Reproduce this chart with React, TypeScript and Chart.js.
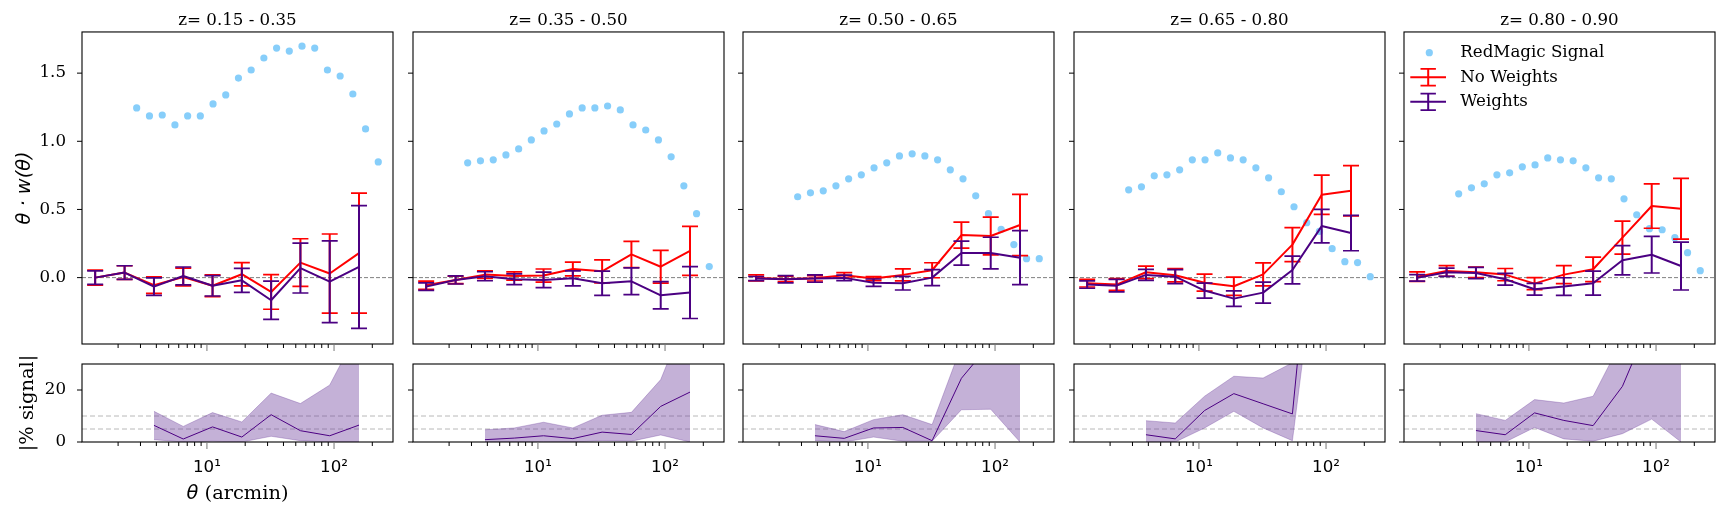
import React, { useEffect, useRef } from 'react';
import { Chart, registerables } from 'chart.js';

Chart.register(...registerables);

// ---------------- data ----------------
const zBinTitles = ['z= 0.15 - 0.35', 'z= 0.35 - 0.50', 'z= 0.50 - 0.65', 'z= 0.65 - 0.80', 'z= 0.80 - 0.90'];

const thetaSignal = [2.80, 3.53, 4.45, 5.60, 7.05, 8.87, 11.17, 14.06, 17.70, 22.28, 28.05, 35.32, 44.46, 55.97, 70.47, 88.72, 111.7, 140.6, 177.0, 222.8];
const thetaBins = [1.32, 2.25, 3.83, 6.51, 11.07, 18.82, 31.99, 54.38, 92.47, 157.2];
const thetaFrac = [3.83, 6.51, 11.07, 18.82, 31.99, 54.38, 92.47, 157.2];

const signalZ1 = [1.245, 1.186, 1.193, 1.120, 1.186, 1.186, 1.274, 1.340, 1.464, 1.523, 1.611, 1.684, 1.662, 1.698, 1.684, 1.523, 1.479, 1.347, 1.091, 0.849];
const noWeightsZ1 = [0.0, 0.037, -0.055, 0.005, -0.06, 0.025, -0.105, 0.11, 0.03, 0.18];
const noWeightsErrZ1 = [0.055, 0.05, 0.06, 0.065, 0.08, 0.085, 0.127, 0.175, 0.29, 0.44];
const weightsZ1 = [0.0, 0.037, -0.066, 0.012, -0.06, -0.02, -0.166, 0.07, -0.03, 0.078];
const weightsErrZ1 = [0.05, 0.05, 0.064, 0.066, 0.075, 0.088, 0.14, 0.183, 0.30, 0.45];
const fracZ1 = [6.4, 1.15, 5.8, 1.9, 10.5, 4.35, 2.4, 6.5];
const fracLoZ1 = [0.9, 0.0, 0.3, 0.0, 2.2, 0.5, 0.0, 0.0];
const fracHiZ1 = [11.8, 6.0, 11.3, 7.7, 18.8, 14.8, 21.9, 43.5];

const signalZ2 = [0.842, 0.857, 0.864, 0.900, 0.944, 1.010, 1.076, 1.127, 1.201, 1.245, 1.245, 1.259, 1.230, 1.120, 1.083, 1.010, 0.886, 0.673, 0.469, 0.081];
const noWeightsZ2 = [-0.056, -0.017, 0.022, 0.012, 0.015, 0.063, 0.046, 0.17, 0.08, 0.196];
const noWeightsErrZ2 = [0.03, 0.027, 0.028, 0.03, 0.048, 0.05, 0.084, 0.096, 0.12, 0.18];
const weightsZ2 = [-0.066, -0.017, 0.01, -0.012, -0.017, -0.005, -0.041, -0.027, -0.13, -0.11];
const weightsErrZ2 = [0.028, 0.03, 0.033, 0.039, 0.057, 0.055, 0.089, 0.098, 0.10, 0.19];
const fracZ2 = [0.9, 1.5, 2.4, 1.3, 3.8, 2.9, 13.7, 19.2];
const fracLoZ2 = [0.0, 0.0, 0.2, 0.0, 0.5, 0.3, 2.7, 0.0];
const fracHiZ2 = [4.7, 5.4, 7.6, 5.4, 10.3, 11.4, 24.0, 52];

const signalZ3 = [0.593, 0.622, 0.637, 0.673, 0.725, 0.754, 0.805, 0.842, 0.893, 0.908, 0.893, 0.864, 0.791, 0.725, 0.600, 0.469, 0.354, 0.242, 0.139, 0.139];
const noWeightsZ3 = [-0.002, -0.01, -0.005, 0.017, -0.007, 0.02, 0.054, 0.312, 0.305, 0.386];
const noWeightsErrZ3 = [0.022, 0.02, 0.02, 0.02, 0.015, 0.044, 0.055, 0.095, 0.138, 0.225];
const weightsZ3 = [-0.007, -0.012, -0.007, -0.002, -0.037, -0.041, 0.0, 0.18, 0.18, 0.146];
const weightsErrZ3 = [0.015, 0.026, 0.027, 0.02, 0.027, 0.05, 0.059, 0.088, 0.116, 0.198];
const fracZ3 = [2.4, 1.4, 5.4, 5.6, 0.5, 24.5, 38, 73];
const fracLoZ3 = [0.5, 0.0, 1.9, 0.3, 0.3, 12.4, 12.6, 0.0];
const fracHiZ3 = [6.7, 4.0, 8.6, 10.5, 6.7, 37, 60, 150];

const signalZ4 = [0.644, 0.666, 0.747, 0.754, 0.791, 0.864, 0.864, 0.915, 0.878, 0.864, 0.805, 0.732, 0.630, 0.520, 0.403, 0.339, 0.212, 0.117, 0.110, 0.007];
const noWeightsZ4 = [-0.041, -0.051, 0.039, 0.017, -0.037, -0.063, 0.024, 0.242, 0.608, 0.637];
const noWeightsErrZ4 = [0.028, 0.043, 0.046, 0.049, 0.062, 0.067, 0.084, 0.124, 0.144, 0.184];
const weightsZ4 = [-0.051, -0.059, 0.02, 0.007, -0.095, -0.154, -0.11, 0.056, 0.378, 0.327];
const weightsErrZ4 = [0.027, 0.046, 0.04, 0.051, 0.055, 0.057, 0.077, 0.102, 0.123, 0.13];
const fracZ4 = [2.8, 1.2, 12.1, 18.6, 14.7, 10.8, 126, 300];
const fracLoZ4 = [0.0, 0.0, 5.4, 11.8, 5.4, 0.5, 89, 180];
const fracHiZ4 = [8.2, 7.3, 17.6, 25.3, 24.6, 30.5, 170, 450];

const signalZ5 = [0.615, 0.659, 0.688, 0.754, 0.769, 0.813, 0.827, 0.878, 0.864, 0.857, 0.805, 0.732, 0.725, 0.578, 0.461, 0.359, 0.351, 0.293, 0.183, 0.051];
const noWeightsZ5 = [0.007, 0.049, 0.039, 0.022, -0.044, 0.022, 0.061, 0.293, 0.525, 0.505];
const noWeightsErrZ5 = [0.035, 0.039, 0.038, 0.045, 0.044, 0.066, 0.09, 0.121, 0.163, 0.223];
const weightsZ5 = [-0.002, 0.039, 0.034, -0.012, -0.085, -0.066, -0.041, 0.127, 0.168, 0.085];
const weightsErrZ5 = [0.024, 0.03, 0.041, 0.043, 0.043, 0.065, 0.088, 0.107, 0.134, 0.176];
const fracZ5 = [4.4, 2.8, 11.2, 8.3, 6.3, 21.4, 48, 37];
const fracLoZ5 = [0.0, 0.0, 5.6, 1.2, 0.3, 3.2, 8.8, 0.0];
const fracHiZ5 = [10.9, 8.3, 16.3, 15.0, 17.6, 39.5, 70, 60];

const yTicksTop = [0, 0.5, 1.0, 1.5];
const yTicksBottom = [0, 20];
const xMajorTicks = [10, 100];
const xMajorLabels = ['10¹', '10²'];
const xMinorTicks = [2, 3, 4, 5, 6, 7, 8, 9, 20, 30, 40, 50, 60, 70, 80, 90, 200];
const zeroLine = [0];
const fracRefLines = [5, 10];
const legendLabels = ['RedMagic Signal', 'No Weights', 'Weights'];

const panels = [
  { title: zBinTitles[0], signal: signalZ1, noW: noWeightsZ1, noWErr: noWeightsErrZ1, w: weightsZ1, wErr: weightsErrZ1, frac: fracZ1, fracLo: fracLoZ1, fracHi: fracHiZ1 },
  { title: zBinTitles[1], signal: signalZ2, noW: noWeightsZ2, noWErr: noWeightsErrZ2, w: weightsZ2, wErr: weightsErrZ2, frac: fracZ2, fracLo: fracLoZ2, fracHi: fracHiZ2 },
  { title: zBinTitles[2], signal: signalZ3, noW: noWeightsZ3, noWErr: noWeightsErrZ3, w: weightsZ3, wErr: weightsErrZ3, frac: fracZ3, fracLo: fracLoZ3, fracHi: fracHiZ3 },
  { title: zBinTitles[3], signal: signalZ4, noW: noWeightsZ4, noWErr: noWeightsErrZ4, w: weightsZ4, wErr: weightsErrZ4, frac: fracZ4, fracLo: fracLoZ4, fracHi: fracHiZ4 },
  { title: zBinTitles[4], signal: signalZ5, noW: noWeightsZ5, noWErr: noWeightsErrZ5, w: weightsZ5, wErr: weightsErrZ5, frac: fracZ5, fracLo: fracLoZ5, fracHi: fracHiZ5 },
];

// ---------------- styles / layout ----------------
const SIGNAL_COLOR = '#87CEFA';
const NOW_COLOR = '#FF0000';
const W_COLOR = '#4B0082';
const BAND_COLOR = 'rgba(100, 50, 150, 0.38)';
const SERIF = 'DejaVu Serif';
const SANS = 'DejaVu Sans';
const TICK_FONT = 16.67;
const LABEL_FONT = 19.4;

const X_MIN = 1.04;
const X_MAX = 291;
const Y_TOP_MIN = -0.487;
const Y_TOP_MAX = 1.802;
const COL_LEFT = [82, 413, 743, 1074, 1404];
const PLOT_W = 311;
const TOP_CANVAS_H = 356;
const BOT_CANVAS_TOP = 350;
const BOT_CANVAS_H = 168;
const AXIS_W = 82;
const SIDE_PAD = 10;

const pts = (xs: number[], ys: number[]) => xs.map((x, k) => ({ x, y: ys[k] }));

// ---------------- plugins ----------------
const errorBarPlugin = {
  id: 'errorBars',
  afterDatasetDraw(chart: any, args: any) {
    const ds = chart.data.datasets[args.index];
    if (!ds.yErr) return;
    const { ctx, chartArea: a, scales } = chart;
    const cap = 8;
    ctx.save();
    ctx.beginPath();
    ctx.rect(a.left, a.top, a.right - a.left, a.bottom - a.top);
    ctx.clip();
    ctx.strokeStyle = ds.borderColor;
    ds.data.forEach((p: any, k: number) => {
      const e = ds.yErr[k];
      const px = scales.x.getPixelForValue(p.x);
      const yHi = scales.y.getPixelForValue(p.y + e);
      const yLo = scales.y.getPixelForValue(p.y - e);
      ctx.lineWidth = 2;
      ctx.beginPath();
      ctx.moveTo(px, yLo);
      ctx.lineTo(px, yHi);
      ctx.stroke();
      ctx.lineWidth = 1.7;
      ctx.beginPath();
      ctx.moveTo(px - cap, yLo);
      ctx.lineTo(px + cap, yLo);
      ctx.moveTo(px - cap, yHi);
      ctx.lineTo(px + cap, yHi);
      ctx.stroke();
    });
    ctx.restore();
  },
};

const decorPlugin = {
  id: 'decor',
  beforeDatasetsDraw(chart: any, _a: any, opts: any) {
    const { ctx, chartArea: a, scales } = chart;
    ctx.save();
    (opts.refLines || []).forEach((v: number) => {
      const py = scales.y.getPixelForValue(v);
      ctx.strokeStyle = opts.refColor;
      ctx.lineWidth = opts.refWidth;
      ctx.setLineDash(opts.refDash);
      ctx.beginPath();
      ctx.moveTo(a.left, py);
      ctx.lineTo(a.right, py);
      ctx.stroke();
    });
    ctx.restore();
  },
  afterDraw(chart: any, _a: any, opts: any) {
    const { ctx, chartArea: a, scales } = chart;
    ctx.save();
    ctx.strokeStyle = '#000';
    ctx.lineWidth = 1.1;
    ctx.strokeRect(a.left, a.top, a.right - a.left, a.bottom - a.top);
    ctx.lineWidth = 1;
    (opts.yTicks || []).forEach((v: number) => {
      const py = scales.y.getPixelForValue(v);
      ctx.beginPath();
      ctx.moveTo(a.left - 5, py);
      ctx.lineTo(a.left, py);
      ctx.stroke();
    });
    xMinorTicks.forEach((v) => {
      const px = scales.x.getPixelForValue(v);
      ctx.beginPath();
      ctx.moveTo(px, a.bottom);
      ctx.lineTo(px, a.bottom + 4);
      ctx.stroke();
    });
    ctx.strokeStyle = '#777';
    xMajorTicks.forEach((v) => {
      const px = scales.x.getPixelForValue(v);
      ctx.beginPath();
      ctx.moveTo(px, a.bottom);
      ctx.lineTo(px, a.bottom + 7);
      ctx.stroke();
    });
    ctx.restore();
  },
};

const legendBoxPlugin = {
  id: 'legendBox',
  afterDraw(chart: any, _a: any, opts: any) {
    if (!opts || !opts.show) return;
    const { ctx, chartArea: a } = chart;
    ctx.save();
    legendLabels.forEach((label, k) => {
      const y = a.top + 20.7 + k * 24.6;
      if (k === 0) {
        ctx.fillStyle = SIGNAL_COLOR;
        ctx.beginPath();
        ctx.arc(a.left + 25.3, y, 3.6, 0, Math.PI * 2);
        ctx.fill();
      } else {
        const c = k === 1 ? NOW_COLOR : W_COLOR;
        const cx = a.left + 24.2;
        ctx.strokeStyle = c;
        ctx.lineWidth = 2;
        ctx.beginPath();
        ctx.moveTo(a.left + 6.3, y);
        ctx.lineTo(a.left + 42, y);
        ctx.moveTo(cx, y - 8.3);
        ctx.lineTo(cx, y + 8.3);
        ctx.stroke();
        ctx.lineWidth = 1.7;
        ctx.beginPath();
        ctx.moveTo(cx - 7.7, y - 8.3);
        ctx.lineTo(cx + 7.7, y - 8.3);
        ctx.moveTo(cx - 7.7, y + 8.3);
        ctx.lineTo(cx + 7.7, y + 8.3);
        ctx.stroke();
      }
      ctx.fillStyle = '#000';
      ctx.font = `${TICK_FONT}px "${SERIF}"`;
      ctx.textBaseline = 'middle';
      ctx.textAlign = 'left';
      ctx.fillText(label, a.left + 56.3, y);
    });
    ctx.restore();
  },
};

const xTitlePlugin = {
  id: 'xTitle',
  afterDraw(chart: any, _a: any, opts: any) {
    if (!opts || !opts.show) return;
    const { ctx, chartArea: a } = chart;
    ctx.save();
    const f1 = `italic ${LABEL_FONT}px "${SANS}"`;
    const f2 = `${LABEL_FONT}px "${SERIF}"`;
    const t1 = 'θ';
    const t2 = ' (arcmin)';
    ctx.font = f1;
    const w1 = ctx.measureText(t1).width;
    ctx.font = f2;
    const w2 = ctx.measureText(t2).width;
    const x0 = (a.left + a.right) / 2 - (w1 + w2) / 2;
    const y = opts.y;
    ctx.fillStyle = '#000';
    ctx.textBaseline = 'middle';
    ctx.textAlign = 'left';
    ctx.font = f1;
    ctx.fillText(t1, x0, y);
    ctx.font = f2;
    ctx.fillText(t2, x0 + w1, y);
    ctx.restore();
  },
};

// ---------------- configs ----------------
function yAxis(first: boolean, min: number, max: number, ticks: number[], fmt: (v: number) => string, title: string, titleFont: any, titlePad: number) {
  return {
    type: 'linear',
    min,
    max,
    display: first,
    afterFit: (s: any) => { s.width = first ? AXIS_W : 0; },
    afterBuildTicks: (s: any) => { s.ticks = ticks.map((v) => ({ value: v })); },
    grid: { display: true, drawOnChartArea: false, drawTicks: true, tickLength: 16, tickColor: 'rgba(0,0,0,0)' },
    border: { display: false },
    ticks: { padding: 0, color: '#000', font: { family: SERIF, size: TICK_FONT }, callback: (v: any) => fmt(Number(v)) },
    title: { display: true, text: title, color: '#000', font: titleFont, padding: { top: titlePad, bottom: 0 } },
  };
}

function topConfig(i: number): any {
  const p = panels[i];
  const first = i === 0;
  return {
    type: 'line',
    data: {
      datasets: [
        { type: 'scatter', label: legendLabels[0], data: pts(thetaSignal, p.signal), pointRadius: 3.6, pointHoverRadius: 3.6, pointBackgroundColor: SIGNAL_COLOR, backgroundColor: SIGNAL_COLOR, pointBorderWidth: 0, borderWidth: 0, order: 2 },
        { type: 'line', label: legendLabels[1], data: pts(thetaBins, p.noW), yErr: p.noWErr, borderColor: NOW_COLOR, borderWidth: 2, pointRadius: 0, tension: 0, fill: false, borderJoinStyle: 'round', order: 1 },
        { type: 'line', label: legendLabels[2], data: pts(thetaBins, p.w), yErr: p.wErr, borderColor: W_COLOR, borderWidth: 2, pointRadius: 0, tension: 0, fill: false, borderJoinStyle: 'round', order: 0 },
      ],
    },
    options: {
      animation: false,
      responsive: false,
      maintainAspectRatio: false,
      events: [],
      layout: { padding: { left: first ? 0 : SIDE_PAD, right: SIDE_PAD, top: 0, bottom: 12 } },
      scales: {
        x: { type: 'logarithmic', min: X_MIN, max: X_MAX, display: false },
        y: yAxis(first, Y_TOP_MIN, Y_TOP_MAX, yTicksTop, (v) => v.toFixed(1), 'θ · w(θ)', { family: SANS, style: 'italic', size: LABEL_FONT }, 13.4),
      },
      plugins: {
        legend: { display: false },
        tooltip: { enabled: false },
        title: { display: true, text: p.title, fullSize: false, color: '#000', font: { family: SERIF, size: TICK_FONT, weight: 'normal', lineHeight: 1.2 }, padding: { top: 10.5, bottom: 1.46 } },
        decor: { refLines: zeroLine, refColor: '#808080', refWidth: 1, refDash: [4, 2], yTicks: yTicksTop },
        legendBox: { show: i === 4 },
        xTitle: { show: false },
      },
    },
    plugins: [errorBarPlugin, decorPlugin, legendBoxPlugin, xTitlePlugin],
  };
}

function bottomConfig(i: number): any {
  const p = panels[i];
  const first = i === 0;
  return {
    type: 'line',
    data: {
      datasets: [
        { type: 'line', label: 'lower', data: pts(thetaFrac, p.fracLo), borderColor: BAND_COLOR, borderWidth: 0.8, pointRadius: 0, tension: 0, fill: false, order: 2 },
        { type: 'line', label: 'upper', data: pts(thetaFrac, p.fracHi), borderColor: BAND_COLOR, backgroundColor: BAND_COLOR, borderWidth: 0.8, pointRadius: 0, tension: 0, fill: '-1', order: 1 },
        { type: 'line', label: '|% signal|', data: pts(thetaFrac, p.frac), borderColor: W_COLOR, borderWidth: 1, pointRadius: 0, tension: 0, fill: false, order: 0 },
      ],
    },
    options: {
      animation: false,
      responsive: false,
      maintainAspectRatio: false,
      events: [],
      layout: { padding: { left: first ? 0 : SIDE_PAD, right: SIDE_PAD, top: 14, bottom: 0 } },
      scales: {
        x: {
          type: 'logarithmic', min: X_MIN, max: X_MAX, display: true,
          afterFit: (s: any) => { s.height = 76; },
          afterBuildTicks: (s: any) => { s.ticks = xMajorTicks.map((v) => ({ value: v })); },
          grid: { display: false, drawTicks: false },
          border: { display: false },
          ticks: { autoSkip: false, maxRotation: 0, minRotation: 0, padding: 16, color: '#000', font: { family: SANS, size: TICK_FONT }, callback: (_v: any, idx: number) => xMajorLabels[idx] },
        },
        y: yAxis(first, 0, 30, yTicksBottom, (v) => String(v), '|% signal|', { family: SERIF, size: LABEL_FONT }, 16.4),
      },
      plugins: {
        legend: { display: false },
        tooltip: { enabled: false },
        title: { display: false },
        decor: { refLines: fracRefLines, refColor: '#b8b8b8', refWidth: 1, refDash: [5, 3], yTicks: yTicksBottom },
        legendBox: { show: false },
        xTitle: { show: first, y: 494 - BOT_CANVAS_TOP },
      },
    },
    plugins: [errorBarPlugin, decorPlugin, legendBoxPlugin, xTitlePlugin],
  };
}

// ---------------- components ----------------
function ChartCanvas({ build, left, top, width, height }: { build: () => any; left: number; top: number; width: number; height: number }) {
  const ref = useRef<HTMLCanvasElement>(null);
  useEffect(() => {
    if (!ref.current) return;
    const chart = new Chart(ref.current, build());
    return () => chart.destroy();
  }, []);
  return <canvas ref={ref} width={width} height={height} style={{ position: 'absolute', left, top, width, height }} />;
}

export default function App() {
  return (
    <div style={{ position: 'fixed', left: 0, top: 0, width: 1728, height: 518, background: '#fff', overflow: 'hidden' }}>
      {panels.map((_, i) => {
        const lead = i === 0 ? AXIS_W : SIDE_PAD;
        return (
          <ChartCanvas key={'top' + i} build={() => topConfig(i)} left={COL_LEFT[i] - lead} top={0} width={lead + PLOT_W + SIDE_PAD} height={TOP_CANVAS_H} />
        );
      })}
      {panels.map((_, i) => {
        const lead = i === 0 ? AXIS_W : SIDE_PAD;
        return (
          <ChartCanvas key={'bot' + i} build={() => bottomConfig(i)} left={COL_LEFT[i] - lead} top={BOT_CANVAS_TOP} width={lead + PLOT_W + SIDE_PAD} height={BOT_CANVAS_H} />
        );
      })}
    </div>
  );
}
